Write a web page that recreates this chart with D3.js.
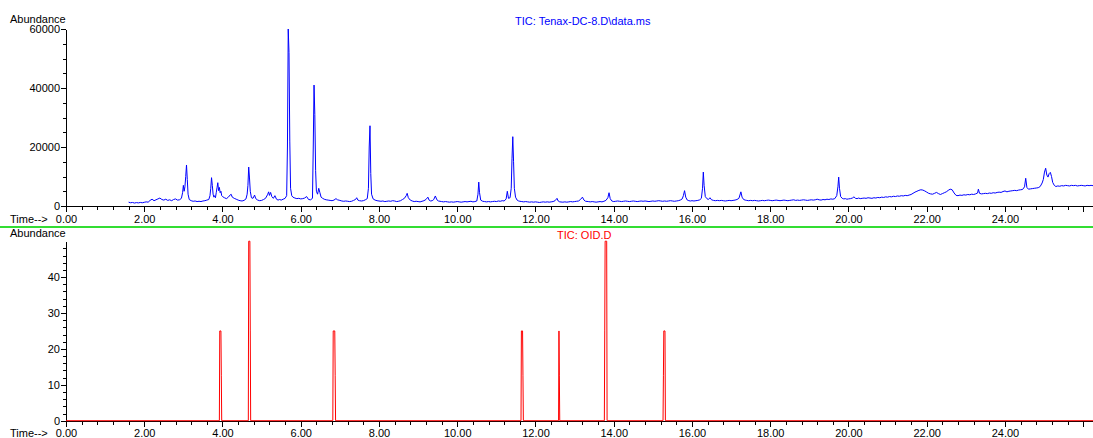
<!DOCTYPE html>
<html><head><meta charset="utf-8">
<script src="https://cdn.jsdelivr.net/npm/d3@7"></script>
<style>html,body{margin:0;padding:0;background:#fff;overflow:hidden}svg{display:block;font-family:"Liberation Sans",Arial,sans-serif}</style>
</head><body><svg id="c" width="1093" height="438"></svg>
<script>
const topTitle = "TIC: Tenax-DC-8.D\\data.ms";
const bottomTitle = "TIC: OID.D";
const yLabel = "Abundance";
const xLabel = "Time-->";
const topYTicks = [0, 20000, 40000, 60000];
const bottomYTicks = [0, 10, 20, 30, 40];
const xLabelTicks = [0, 2, 4, 6, 8, 10, 12, 14, 16, 18, 20, 22, 24];

// TIC: Tenax-DC-8.D  [time (min), abundance]
const ticTenax = [
[1.60,1300],[1.65,1100],[1.70,1200],[1.75,1000],[1.80,1150],[1.85,1050],[1.90,1200],[1.95,1100],[2.00,1250],[2.05,1400],[2.10,1300],[2.15,1900],[2.20,2300],[2.25,1800],[2.30,2100],[2.35,2400],[2.40,2700],[2.45,2200],[2.50,2000],[2.55,2300],[2.60,1900],[2.65,2100],[2.70,1800],[2.75,2200],[2.80,2400],[2.85,2000],[2.90,2100],[2.95,2600],
[2.98,4500],[3.00,7000],[3.02,5000],[3.04,6500],[3.06,10000],[3.08,13900],[3.10,9000],[3.12,4000],[3.15,2200],[3.20,1800],[3.25,1600],[3.30,1700],[3.35,1500],[3.40,1600],[3.45,1500],[3.50,1700],[3.55,1800],[3.60,2000],[3.65,2200],[3.68,3500],[3.70,6000],[3.72,9600],[3.74,7000],[3.76,4000],[3.78,3000],[3.80,3500],[3.82,2800],[3.84,4500],[3.86,6200],[3.88,7900],[3.90,5200],[3.92,6300],[3.94,4500],[3.96,5000],[3.98,3500],[4.00,3200],[4.05,2800],[4.10,2500],[4.15,3000],[4.20,3800],[4.22,4000],[4.25,3000],[4.30,2600],[4.35,2300],[4.40,2000],[4.45,1800],[4.50,1700],[4.55,1900],[4.60,2400],[4.63,4000],[4.65,7000],[4.67,13200],[4.69,9500],[4.71,5000],[4.74,2800],[4.78,2600],[4.82,3700],[4.85,2500],[4.90,2000],[4.95,1800],[5.00,1900],[5.05,2200],[5.10,2600],[5.15,3800],[5.18,4800],[5.20,3600],[5.23,4600],[5.26,3200],[5.30,2600],[5.34,3500],[5.38,2300],[5.42,2000],[5.46,2200],[5.50,2000],[5.55,2300],[5.60,2600],[5.64,3500],[5.66,20000],[5.68,60000],[5.70,52000],[5.72,22000],[5.74,6000],[5.77,3500],[5.80,3000],[5.85,2700],[5.90,2500],[5.95,2600],[6.00,2400],[6.05,2500],[6.10,2700],[6.15,3200],[6.20,2200],[6.25,2100],[6.30,2600],[6.32,20000],[6.34,41000],[6.36,31000],[6.38,12000],[6.40,5000],[6.43,4000],[6.46,6000],[6.49,4500],[6.52,3000],[6.56,2600],[6.60,2300],[6.65,2100],[6.70,2000],[6.75,1900],[6.80,1800],[6.85,2000],[6.90,2500],[6.94,2100],[7.00,1900],[7.05,1700],[7.10,1600],[7.15,1700],[7.20,1600],[7.25,1500],[7.30,1600],[7.35,1900],[7.40,2200],[7.43,2800],[7.46,2000],[7.50,1800],[7.55,1700],[7.60,1800],[7.65,2100],[7.70,2500],[7.73,6000],[7.75,20000],[7.77,27200],[7.79,11000],[7.81,4000],[7.85,2400],[7.90,2000],[7.95,1800],[8.00,1700],[8.05,1600],[8.10,1700],[8.15,1500],[8.20,1600],[8.25,1700],[8.30,1600],[8.35,1800],[8.40,1700],[8.45,1500],[8.50,1600],[8.55,1800],[8.60,2200],[8.65,2600],[8.70,3600],[8.72,4300],[8.75,2800],[8.80,2000],[8.85,1700],[8.90,1500],[8.95,1600],[9.00,1500],[9.05,1400],[9.10,1600],[9.15,1800],[9.20,2200],[9.25,3000],[9.28,2000],[9.32,1700],[9.36,1800],[9.40,2200],[9.44,3400],[9.48,2100],[9.52,1700],[9.56,1600],[9.60,1500],[9.65,1400],[9.70,1500],[9.75,1400],[9.80,1300],[9.85,1400],[9.90,1300],[9.95,1400],[10.00,1500],[10.05,1400],[10.10,1300],[10.15,1400],[10.20,1500],[10.25,1400],[10.30,1500],[10.35,1600],[10.40,1400],[10.45,1500],[10.50,1700],[10.53,4000],[10.55,8100],[10.57,4500],[10.60,2000],[10.65,1600],[10.70,1500],[10.75,1400],[10.80,1500],[10.85,1400],[10.90,1500],[10.95,1600],[11.00,1500],[11.05,1700],[11.10,1600],[11.15,1800],[11.20,1700],[11.25,2400],[11.28,5000],[11.31,2600],[11.35,2800],[11.38,6000],[11.40,16000],[11.42,23500],[11.44,15000],[11.46,6000],[11.49,3000],[11.53,2000],[11.57,1700],[11.60,1600],[11.65,1500],[11.70,1400],[11.75,1500],[11.80,1400],[11.85,1300],[11.90,1400],[11.95,1300],[12.00,1400],[12.05,1300],[12.10,1200],[12.15,1300],[12.20,1400],[12.25,1300],[12.30,1400],[12.35,1300],[12.40,1400],[12.45,1500],[12.50,1800],[12.55,2600],[12.58,1700],[12.62,1400],[12.70,1300],[12.75,1400],[12.80,1300],[12.85,1400],[12.90,1500],[12.95,1400],[13.00,1500],[13.05,1600],[13.10,1700],[13.15,2200],[13.20,3000],[13.24,2000],[13.28,1600],[13.35,1500],[13.40,1400],[13.45,1500],[13.50,1400],[13.55,1300],[13.60,1400],[13.65,1500],[13.70,1400],[13.75,1600],[13.80,1900],[13.85,2800],[13.88,4500],[13.91,2500],[13.95,1700],[14.00,1500],
[14.05,1600],[14.10,1700],[14.15,1600],[14.20,1500],[14.25,1600],[14.30,1700],[14.35,1600],[14.40,1500],[14.45,1600],[14.50,1700],[14.55,1600],[14.60,1500],[14.65,1600],[14.70,1700],[14.75,1600],[14.80,1700],[14.85,1600],[14.90,1500],[14.95,1600],[15.00,1700],[15.05,1600],[15.10,1700],[15.15,1800],[15.20,1700],[15.25,1600],[15.30,1700],[15.35,1600],[15.40,1700],[15.45,1800],[15.50,1700],[15.55,1600],[15.60,1700],[15.65,1800],[15.70,2000],[15.75,2400],[15.78,3500],[15.81,5200],[15.84,3000],[15.88,2000],[15.92,1800],[15.96,1700],[16.00,1800],[16.05,1700],[16.10,1800],[16.15,1900],[16.20,2100],[16.24,2600],[16.27,6000],[16.29,11500],[16.31,7000],[16.34,3200],[16.38,2500],[16.42,2200],[16.46,2800],[16.50,2100],[16.55,1900],[16.60,1800],[16.65,1900],[16.70,1800],[16.75,1900],[16.80,1800],[16.85,1700],[16.90,1800],[16.95,1900],[17.00,1800],[17.05,1900],[17.10,2000],[17.15,2200],[17.20,2600],[17.25,4800],[17.28,3000],[17.32,2200],[17.36,2000],[17.40,1900],[17.45,1800],[17.50,1900],[17.55,1800],[17.60,1900],[17.65,1800],[17.70,1700],[17.75,1800],[17.80,1900],[17.85,1800],[17.90,1900],[17.95,2000],[18.00,1900],[18.05,1800],[18.10,1900],[18.15,2000],[18.20,1900],[18.25,1800],[18.30,1900],[18.35,2000],[18.40,1900],[18.45,1800],[18.50,1900],[18.55,2000],[18.60,2100],[18.65,1900],[18.70,2000],[18.75,1900],[18.80,2000],[18.85,2100],[18.90,2000],[18.95,1900],[19.00,2000],[19.05,2100],[19.10,2000],[19.15,2100],[19.20,2300],[19.25,2100],[19.30,2000],[19.35,2200],[19.40,2100],[19.45,2300],[19.50,2200],[19.55,2400],[19.60,2300],[19.65,2500],[19.70,3500],[19.73,6500],[19.75,9800],[19.77,6000],[19.80,3200],[19.84,2600],[19.88,2400],[19.92,2500],[19.96,2300],[20.00,2400],[20.05,2500],[20.10,2700],[20.14,3100],[20.18,2600],[20.22,2500],[20.26,2700],[20.30,2500],[20.35,2600],[20.40,2700],[20.45,2600],[20.50,2800],[20.55,2700],[20.60,2600],[20.65,2800],[20.70,2700],[20.75,2900],[20.80,2800],[20.85,3000],[20.90,2900],[20.95,3100],[21.00,3000],[21.05,3200],[21.10,3100],[21.15,3300],[21.20,3200],[21.25,3400],[21.30,3300],[21.35,3500],[21.40,3400],[21.45,3600],[21.50,3500],[21.55,3700],[21.60,3900],[21.65,4300],[21.70,4700],[21.75,5000],[21.80,5300],[21.85,5500],[21.90,5400],[21.95,5100],[22.00,4700],[22.05,4300],[22.10,4100],[22.15,4000],[22.20,4300],[22.25,4600],[22.30,4200],[22.35,3900],[22.40,4200],[22.45,4500],[22.50,4800],[22.55,5300],[22.60,5700],[22.65,5500],[22.70,4400],[22.75,3600],[22.80,3500],[22.85,3700],[22.90,3600],[22.95,3800],[23.00,3700],[23.05,3900],[23.10,3800],[23.15,4000],[23.20,3900],[23.25,4100],[23.30,4400],[23.32,5700],[23.35,4300],[23.40,4100],[23.45,4200],[23.50,4300],[23.55,4200],[23.60,4400],[23.65,4300],[23.70,4500],[23.75,4400],[23.80,4600],[23.85,4700],[23.90,4600],[23.95,4900],[24.00,5100],[24.05,4800],[24.10,5000],[24.15,5100],[24.20,5200],[24.25,5300],[24.30,5200],[24.35,5400],[24.40,5500],[24.45,5600],[24.50,6500],[24.53,9400],[24.56,6300],[24.60,5700],[24.65,5800],[24.70,5900],[24.75,6000],[24.80,6100],[24.85,6200],[24.90,6600],[24.95,7800],[24.98,9000],[25.01,11500],[25.04,12800],[25.07,10500],[25.10,9800],[25.13,11000],[25.16,11400],[25.19,10000],[25.22,8000],[25.26,7000],[25.30,6600],[25.35,6800],[25.40,6700],[25.45,6900],[25.50,6800],[25.55,7000],[25.60,6900],[25.65,6800],[25.70,7000],[25.75,6900],[25.80,7000],[25.85,6800],[25.90,6900],[25.95,7000],[26.00,6900],[26.05,6800],[26.10,7000],[26.15,6900],[26.20,7000],[26.25,6900]
];

// TIC: OID.D  [time (min), abundance]
const ticOid = [
[0,0],[3.92,0],[3.93,25],[3.96,25],[3.97,12.5],[3.98,0],
[4.66,0],[4.67,50],[4.70,50],[4.71,25],[4.72,0],
[6.82,0],[6.83,25],[6.87,25],[6.88,12.5],[6.89,0],
[11.63,0],[11.64,25],[11.67,25],[11.68,12.5],[11.69,0],
[12.59,0],[12.60,25],[12.61,12.5],[12.62,0],
[13.76,0],[13.77,25],[13.78,50],[13.82,50],[13.83,0],
[15.26,0],[15.27,12.5],[15.28,25],[15.31,25],[15.32,0],
[26.25,0]
];

const svg = d3.select("#c");
const W = 1093, H = 438;
const fs = 11;

const x = d3.scaleLinear().domain([0, 26.25]).range([66, W]);
const yTop = d3.scaleLinear().domain([0, 60000]).range([206, 29]);
const yBot = d3.scaleLinear().domain([0, 50]).range([420.7, 241.2]);

const xMinor = d3.range(0, 26.21, 0.4).map(v => +v.toFixed(1));
const xMajor = d3.range(0, 26.1, 2);

function drawPanel(y, yTicks, yMinorStep, yMax, data, color, title, titleX, titleY, abundY, timeY) {
  svg.append("g").attr("transform", `translate(0,${y(0)})`)
    .call(d3.axisBottom(x).tickValues(xMinor).tickSize(4).tickSizeOuter(0).tickFormat(""))
    .call(g => g.selectAll("path,line").attr("stroke", "#000").attr("shape-rendering", "crispEdges"));
  svg.append("g").attr("transform", `translate(0,${y(0)})`)
    .call(d3.axisBottom(x).tickValues(xMajor).tickSize(6).tickSizeOuter(0).tickPadding(3)
      .tickFormat(d => xLabelTicks.includes(d) ? d3.format(".2f")(d) : ""))
    .call(g => g.select(".domain").remove())
    .call(g => g.selectAll("line").attr("stroke", "#000").attr("shape-rendering", "crispEdges"))
    .call(g => g.selectAll("text").attr("font-size", fs).attr("fill", "#000").attr("font-family", null));
  const yMinor = d3.range(0, yMax + 1e-6, yMinorStep);
  svg.append("g").attr("transform", `translate(${x(0)},0)`)
    .call(d3.axisLeft(y).tickValues(yMinor).tickSize(3).tickSizeOuter(0).tickFormat(""))
    .call(g => g.selectAll("path,line").attr("stroke", "#000").attr("shape-rendering", "crispEdges"));
  svg.append("g").attr("transform", `translate(${x(0)},0)`)
    .call(d3.axisLeft(y).tickValues(yTicks).tickSize(5).tickSizeOuter(0).tickPadding(1).tickFormat(d3.format("d")))
    .call(g => g.select(".domain").remove())
    .call(g => g.selectAll("line").attr("stroke", "#000").attr("shape-rendering", "crispEdges"))
    .call(g => g.selectAll("text").attr("font-size", fs).attr("fill", "#000").attr("font-family", null));
  const line = d3.line().x(d => x(d[0])).y(d => y(d[1]));
  svg.append("path").datum(data).attr("d", line).attr("fill", "none")
    .attr("stroke", color).attr("stroke-width", 1);
  svg.append("text").attr("x", titleX).attr("y", titleY).attr("font-size", fs).attr("fill", color).text(title);
  svg.append("text").attr("x", 10).attr("y", abundY).attr("font-size", fs).attr("fill", "#000").text(yLabel);
  svg.append("text").attr("x", 10).attr("y", timeY).attr("font-size", fs).attr("fill", "#000").text(xLabel);
}

drawPanel(yTop, topYTicks, 5000, 60000, ticTenax, "#0000ff", topTitle, 515, 25, 23, 223);
drawPanel(yBot, bottomYTicks, 2, 48, ticOid, "#ff0000", bottomTitle, 557, 239, 237, 437);

svg.append("line").attr("x1", 0).attr("x2", W).attr("y1", 227).attr("y2", 227)
  .attr("stroke", "#33dd33").attr("stroke-width", 1.5).attr("shape-rendering", "crispEdges");
</script></body></html>
